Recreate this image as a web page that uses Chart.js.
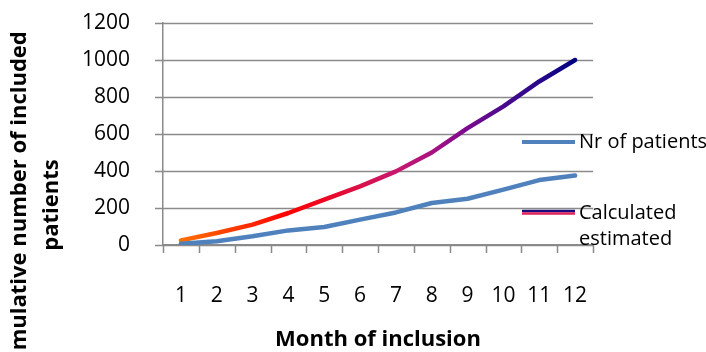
<!DOCTYPE html>
<html>
<head>
<meta charset="utf-8">
<script src="https://cdn.jsdelivr.net/npm/chart.js@4/dist/chart.umd.min.js"></script>
<style>
  html, body { margin: 0; padding: 0; background: #ffffff; }
  #wrap { width: 706px; height: 352px; position: relative; }
</style>
</head>
<body>
<div id="wrap"><canvas id="c" width="706" height="352"></canvas></div>
<script>
// Months of inclusion
const months = ['1', '2', '3', '4', '5', '6', '7', '8', '9', '10', '11', '12'];
// Actual cumulative inclusions
const nrOfPatients = [7, 20, 47, 79, 97, 137, 176, 227, 250, 299, 351, 376];
// Calculated estimate of cumulative inclusions
const calculatedEstimated = [25, 65, 110, 173, 245, 317, 398, 500, 632, 749, 884, 1000];
// Y axis range and step
const yMin = 0, yMax = 1200, yStep = 200;

const seriesNames = ['Nr of patients', ['Calculated', 'estimated']];
const yTitle = ['Cumulative number of included', 'patients'];
const xTitle = 'Month of inclusion';

const FONT = '"Open Sans", Lato, sans-serif';
const GRID = '#8a8a8a';
const BLUE = '#4f81bd';
const TICK_LEN = 8;

// Colour ramp along the estimated curve: orange -> red -> magenta -> purple -> navy
const rampStops = [
  [0, '#ff7000'], [3, '#ff0000'], [6, '#c8186e'], [7, '#a81480'],
  [8, '#7a0a90'], [9, '#4a0a8c'], [10, '#28088a'], [11, '#000080']
];

function rampGradient(chart) {
  const xs = chart.scales.x;
  if (!xs || !chart.chartArea) return '#c0105a';
  const x0 = xs.getPixelForValue(0), x1 = xs.getPixelForValue(11);
  if (!isFinite(x0) || !isFinite(x1) || x1 === x0) return '#c0105a';
  const g = chart.ctx.createLinearGradient(x0, 0, x1, 0);
  rampStops.forEach(([i, c]) => g.addColorStop(i / 11, c));
  return g;
}

// Horizontal grid lines with outer tick marks, and tick marks between months
const gridLines = {
  id: 'gridLines',
  beforeDatasetsDraw(chart) {
    const ctx = chart.ctx;
    const x = chart.scales.x, y = chart.scales.y;
    const left = x.left, right = x.right, bottom = y.bottom;
    ctx.save();
    ctx.strokeStyle = GRID;
    ctx.lineWidth = 1.5;
    ctx.beginPath();
    y.ticks.forEach(t => {
      const py = Math.round(y.getPixelForValue(t.value)) + 0.5;
      ctx.moveTo(left - TICK_LEN, py);
      ctx.lineTo(right, py);
    });
    for (let i = 0; i <= months.length; i++) {
      const px = Math.round(x.getPixelForValue(i - 0.5)) + 0.5;
      ctx.moveTo(px, bottom);
      ctx.lineTo(px, bottom + TICK_LEN);
    }
    ctx.stroke();
    ctx.restore();
  }
};

const overlay = {
  id: 'overlay',
  afterDraw(chart) {
    const ctx = chart.ctx;
    const x = chart.scales.x;
    ctx.save();
    // Y axis title, two bold lines rotated
    ctx.font = 'bold 22px ' + FONT;
    ctx.fillStyle = '#000';
    ctx.textAlign = 'center';
    ctx.textBaseline = 'middle';
    ctx.translate(0, 205);
    ctx.rotate(-Math.PI / 2);
    ctx.fillText(yTitle[0], 0, 20);
    ctx.fillText(yTitle[1], 0, 52);
    ctx.restore();

    ctx.save();
    // X axis title
    ctx.font = 'bold 22px ' + FONT;
    ctx.fillStyle = '#000';
    ctx.textAlign = 'center';
    ctx.textBaseline = 'middle';
    ctx.fillText(xTitle, (x.left + x.right) / 2, 340);

    // Legend
    ctx.lineCap = 'butt';
    ctx.lineWidth = 4;
    ctx.strokeStyle = BLUE;
    ctx.beginPath(); ctx.moveTo(522, 142); ctx.lineTo(575, 142); ctx.stroke();
    ctx.lineWidth = 2.5;
    ctx.strokeStyle = '#1a0a80';
    ctx.beginPath(); ctx.moveTo(522, 211); ctx.lineTo(575, 211); ctx.stroke();
    ctx.strokeStyle = '#e0205a';
    ctx.beginPath(); ctx.moveTo(522, 213.5); ctx.lineTo(575, 213.5); ctx.stroke();

    ctx.font = '20px ' + FONT;
    ctx.textAlign = 'left';
    ctx.fillStyle = '#000';
    ctx.fillText(seriesNames[0], 579, 142);
    ctx.fillText(seriesNames[1][0], 579, 213);
    ctx.fillText(seriesNames[1][1], 579, 239);
    ctx.restore();
  }
};

new Chart(document.getElementById('c'), {
  type: 'line',
  data: {
    labels: months,
    datasets: [
      {
        label: 'Nr of patients',
        data: nrOfPatients,
        borderColor: BLUE,
        borderWidth: 4.5,
        pointRadius: 0,
        tension: 0,
        borderCapStyle: 'round',
        borderJoinStyle: 'round'
      },
      {
        label: 'Calculated estimated',
        data: calculatedEstimated,
        borderColor: (c) => rampGradient(c.chart),
        borderWidth: 4.5,
        pointRadius: 0,
        tension: 0,
        borderCapStyle: 'round',
        borderJoinStyle: 'round'
      }
    ]
  },
  options: {
    responsive: false,
    animation: false,
    devicePixelRatio: 1,
    layout: { padding: { top: 23, right: 113, left: 0, bottom: 0 } },
    plugins: { legend: { display: false }, tooltip: { enabled: false } },
    scales: {
      x: {
        offset: true,
        grid: { display: false },
        border: { display: true, color: GRID, width: 1.5 },
        ticks: { color: '#000', font: { family: FONT, size: 21 }, padding: 30, maxRotation: 0, autoSkip: false },
        afterFit(s) { s.height = 107; s.paddingLeft = 0; s.paddingRight = 0; }
      },
      y: {
        min: yMin, max: yMax,
        grid: { display: false },
        border: { display: true, color: GRID, width: 1.5 },
        ticks: {
          stepSize: yStep,
          color: '#000',
          font: { family: FONT, size: 21 },
          padding: 25,
          callback: (v) => String(v)
        },
        afterFit(s) { s.width = 163; s.paddingTop = 0; s.paddingBottom = 0; }
      }
    }
  },
  plugins: [gridLines, overlay]
});
</script>
</body>
</html>
